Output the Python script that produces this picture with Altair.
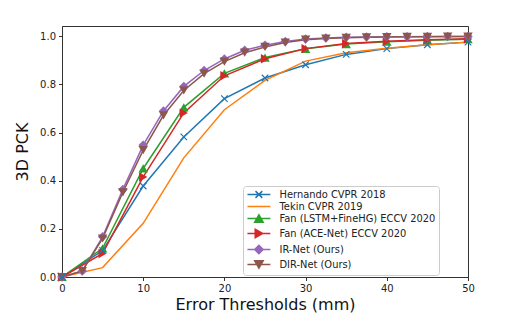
import altair as alt
import pandas as pd

# ---- data ----
series_names = [
    "Hernando CVPR 2018",
    "Tekin CVPR 2019",
    "Fan (LSTM+FineHG) ECCV 2020",
    "Fan (ACE-Net) ECCV 2020",
    "IR-Net (Ours)",
    "DIR-Net (Ours)",
]
colors = ["#1f77b4", "#ff7f0e", "#2ca02c", "#d62728", "#9467bd", "#8c564b"]

thr_5 = [0, 5, 10, 15, 20, 25, 30, 35, 40, 45, 50]
thr_25 = [0, 2.5, 5, 7.5, 10, 12.5, 15, 17.5, 20, 22.5, 25, 27.5, 30, 32.5,
          35, 37.5, 40, 42.5, 45, 47.5, 50]

hernando = [0, 0.11, 0.378, 0.582, 0.741, 0.827, 0.882, 0.925, 0.949, 0.965, 0.976]
tekin = [0, 0.039, 0.223, 0.495, 0.695, 0.817, 0.897, 0.932, 0.951, 0.965, 0.976]
fan_lstm = [0, 0.119, 0.451, 0.705, 0.846, 0.912, 0.948, 0.968, 0.978, 0.984, 0.988]
fan_ace = [0, 0.098, 0.416, 0.682, 0.836, 0.907, 0.949, 0.970, 0.980, 0.986, 0.990]
ir_net = [0, 0.025, 0.167, 0.364, 0.548, 0.690, 0.792, 0.858, 0.906, 0.942, 0.963,
          0.979, 0.989, 0.993, 0.996, 0.997, 0.998, 0.998, 0.999, 0.999, 0.999]
dir_net = [0, 0.025, 0.160, 0.352, 0.527, 0.672, 0.775, 0.845, 0.895, 0.932, 0.956,
           0.974, 0.986, 0.991, 0.994, 0.996, 0.997, 0.998, 0.998, 0.999, 0.999]

x_ticks = [0, 10, 20, 30, 40, 50]
y_ticks = [0.0, 0.2, 0.4, 0.6, 0.8, 1.0]

# ---- long table ----
rows = []
for name, xs, ys in [
    (series_names[0], thr_5, hernando),
    (series_names[1], thr_5, tekin),
    (series_names[2], thr_5, fan_lstm),
    (series_names[3], thr_5, fan_ace),
    (series_names[4], thr_25, ir_net),
    (series_names[5], thr_25, dir_net),
]:
    for xv, yv in zip(xs, ys):
        rows.append({"series": name, "thr": xv, "pck": yv})
df = pd.DataFrame(rows)

FONT = "DejaVu Sans"

x_enc = alt.X("thr:Q", scale=alt.Scale(domain=[0, 50], nice=False, zero=False),
              axis=alt.Axis(values=x_ticks, format="d", title="Error Thresholds (mm)",
                            labelFlush=False))
y_enc = alt.Y("pck:Q", scale=alt.Scale(domain=[0, 1.043], nice=False, zero=False),
              axis=alt.Axis(values=y_ticks, format=".1f", title="3D PCK"))

color_scale = alt.Scale(domain=series_names, range=colors)

lines = alt.Chart(df).mark_line(strokeWidth=1.5).encode(
    x=x_enc, y=y_enc,
    color=alt.Color("series:N", scale=color_scale, legend=None),
    detail="series:N",
)

filled_series = series_names[2:]
pts = alt.Chart(df).transform_filter(
    alt.FieldOneOfPredicate(field="series", oneOf=filled_series)
).mark_point(filled=True, opacity=1, size=90).encode(
    x=x_enc, y=y_enc,
    color=alt.Color("series:N", scale=color_scale, legend=None),
    shape=alt.Shape("series:N",
                    scale=alt.Scale(domain=filled_series,
                                    range=["triangle-up", "triangle-right", "diamond", "triangle-down"]),
                    legend=None),
)

xpts = alt.Chart(df).transform_filter(
    alt.datum.series == series_names[0]
).mark_point(shape="M-1,-1L1,1M-1,1L1,-1", filled=False, color=colors[0],
             size=42, strokeWidth=1.2, opacity=1).encode(x=x_enc, y=y_enc)


def nested(pts_):
    """outline drawn at several scales so a stroked legend symbol looks filled"""
    out = ""
    for s in (1.0, 0.72, 0.45, 0.18):
        out += "M" + "L".join(f"{px * s:.3f},{py * s:.3f}" for px, py in pts_) + "Z"
    return out


LINE = "M-2.7,0H2.7"
legend_paths = [
    LINE + "M-0.8,-0.8L0.8,0.8M-0.8,0.8L0.8,-0.8",
    LINE,
    LINE + nested([(0, -0.866), (-1, 0.866), (1, 0.866)]),
    LINE + nested([(0.866, 0), (-0.866, -1), (-0.866, 1)]),
    LINE + nested([(-1, 0), (0, -1), (1, 0), (0, 1)]),
    LINE + nested([(0, 0.866), (-1, -0.866), (1, -0.866)]),
]
leg = alt.Legend(title=None, symbolOpacity=1, symbolStrokeWidth=1.5)
legend_layer = alt.Chart(df).mark_point(filled=False, opacity=0, size=72, strokeWidth=1.5).encode(
    x=x_enc, y=y_enc,
    color=alt.Color("series:N", scale=alt.Scale(domain=series_names, range=colors), legend=leg),
    shape=alt.Shape("series:N", scale=alt.Scale(domain=series_names, range=legend_paths), legend=leg),
)

chart = alt.layer(lines, pts, xpts, legend_layer).resolve_scale(
    shape="independent", color="independent"
).properties(
    width=406, height=251,
    autosize=alt.AutoSizeParams(type="none"),
    padding={"left": 54, "top": 18, "right": 34, "bottom": 36},
).configure_view(
    stroke="#333333", strokeWidth=1
).configure_axis(
    grid=False, domainColor="#333333", tickColor="#333333", tickSize=3.5,
    labelPadding=3, labelFont=FONT, labelFontSize=10, labelColor="#222222",
    titleFont=FONT, titleFontSize=16, titleFontWeight="normal", titleColor="#111111",
).configure_axisX(
    titlePadding=3,
).configure_axisY(
    titlePadding=9,
).configure_legend(
    orient="none", legendX=181, legendY=160,
    padding=3.5, symbolOffset=7.4, labelOffset=15.6, rowPadding=0,
    labelFont=FONT, labelFontSize=9.9, labelColor="#222222",
    fillColor="white", strokeColor="#cccccc", cornerRadius=3, symbolSize=72,
)

chart.save("out.html", embed_options={"renderer": "svg", "actions": False})
